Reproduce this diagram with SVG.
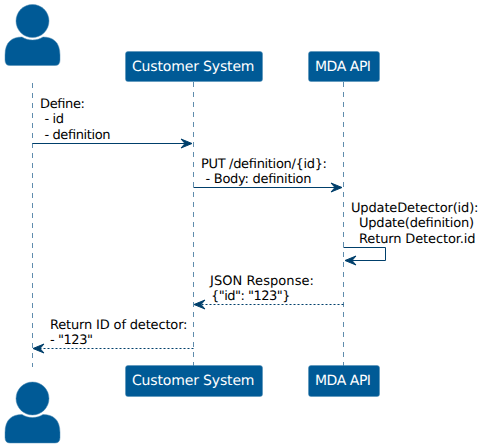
<svg xmlns="http://www.w3.org/2000/svg" width="484" height="448" viewBox="0 0 484 448">
<style>
.life{stroke:#5f8cad;stroke-width:1;stroke-dasharray:5,5;fill:none}
.box{fill:#005A96;stroke:#4f8cb5;stroke-width:.5}
.actor{fill:#005A96;stroke:#4f8cb5;stroke-width:.5}
.title{font:14px "DejaVu Sans",sans-serif;fill:#fff;text-rendering:geometricPrecision}
.msg{font:13px "DejaVu Sans",sans-serif;fill:#000;text-rendering:geometricPrecision}
.line{stroke:#003F6B;stroke-width:1;fill:none}
.dash{stroke:#003F6B;stroke-width:1;fill:none;stroke-dasharray:2,2}
.head{fill:#003F6B;stroke:#003F6B;stroke-width:1}
</style>
<defs>
<g id="actorShape"><circle class="actor" cx="32.5" cy="21" r="16.5"/><path class="actor" d="M5 55C5 42 12 37 22 37C28 41 37 41 43 37C53 37 60 42 60 55V60Q60 65.500 55 65.500H10Q5 65.500 5 60Z"/></g>
</defs>
<g id="connectors">
<line class="life" x1="32.500" y1="83" x2="32.500" y2="367"/>
<line class="life" x1="193.500" y1="82" x2="193.500" y2="366"/>
<line class="life" x1="343.500" y1="82" x2="343.500" y2="366"/>
<line class="line" x1="32.500" y1="143.500" x2="190" y2="143.500"/>
<path class="head" d="M181 139L192 143.500L181 148L185 143.500Z"/>
<line class="line" x1="193.500" y1="187.500" x2="340" y2="187.500"/>
<path class="head" d="M331 183L342 187.500L331 192L335 187.500Z"/>
<path class="line" d="M343.500 247.500H385.500V260.500H347"/>
<path class="head" d="M356 256L345 260.500L356 265L352 260.500Z"/>
<line class="dash" x1="343.500" y1="304.500" x2="197" y2="304.500"/>
<path class="head" d="M205 300L194 304.500L205 309L201 304.500Z"/>
<line class="dash" x1="193.500" y1="348.500" x2="36" y2="348.500"/>
<path class="head" d="M44 344L33 348.500L44 353L40 348.500Z"/>
</g>
<g id="actor-top"><use href="#actorShape"/></g>
<g id="actor-bottom"><use href="#actorShape" y="377.500"/></g>
<g id="customer-top"><rect class="box" x="125.500" y="51.500" width="137" height="30" rx="2.500"/><text class="title" x="132" y="71" textLength="122.500">Customer System</text></g>
<g id="mda-top"><rect class="box" x="308.500" y="51.500" width="71" height="30" rx="2.500"/><text class="title" x="315" y="71" textLength="56">MDA API</text></g>
<g id="customer-bottom"><rect class="box" x="125.500" y="365.500" width="137" height="31" rx="2.500"/><text class="title" x="132" y="385" textLength="122.500">Customer System</text></g>
<g id="mda-bottom"><rect class="box" x="308.500" y="365.500" width="71" height="31" rx="2.500"/><text class="title" x="315" y="385" textLength="56">MDA API</text></g>
<g id="labels">
<text class="msg" x="40" y="108" textLength="45">Define:</text>
<text class="msg" x="44.500" y="123" textLength="19.500">- id</text>
<text class="msg" x="44.500" y="139" textLength="66">- definition</text>
<text class="msg" x="201" y="168" textLength="126">PUT /definition/{id}:</text>
<text class="msg" x="205.500" y="183" textLength="106">- Body: definition</text>
<text class="msg" x="351" y="212" textLength="127.500">UpdateDetector(id):</text>
<text class="msg" x="359" y="227" textLength="115">Update(definition)</text>
<text class="msg" x="359" y="243" textLength="116.500">Return Detector.id</text>
<text class="msg" x="210" y="285" textLength="104">JSON Response:</text>
<text class="msg" x="211" y="300" textLength="79.500">{"id": "123"}</text>
<text class="msg" x="50" y="329" textLength="137.500">Return ID of detector:</text>
<text class="msg" x="50" y="344" textLength="43">- "123"</text>
</g>
</svg>
